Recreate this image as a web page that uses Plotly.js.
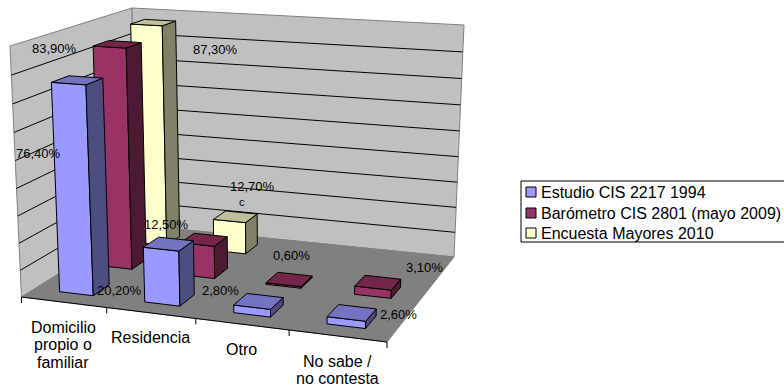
<!DOCTYPE html>
<html>
<head>
<meta charset="utf-8">
<script src="https://cdn.plot.ly/plotly-3.0.1.min.js"></script>
<style>html,body{margin:0;padding:0;background:#fff}#chart{width:784px;height:387px}</style>
</head>
<body>
<div id="chart"></div>
<script>
// Survey results: where older people would prefer to live (percent of answers)
const categories = [['Domicilio', 'propio o', 'familiar'], ['Residencia'], ['Otro'], ['No sabe /', 'no contesta']];
const seriesNames = ['Estudio CIS 2217 1994', 'Barómetro CIS 2801 (mayo 2009)', 'Encuesta Mayores 2010'];
const estudio1994 = [76.4, 20.2, 2.8, 2.6];
const barometro2009 = [83.9, 12.5, 0.6, 3.1];
const encuesta2010 = [87.3, 12.7, null, null];
const axisMax = 90;
const axisStep = 10;

// Face colours per series: front, side, top
const faceColors = [
  ['#9999FF', '#4D4D80', '#7373BF'],
  ['#993366', '#4D1A33', '#732649'],
  ['#FFFFCC', '#808066', '#BFBF99']
];

// Camera model: screen corners of the chart box at floor level and at axisMax
const floorCorners = [[21.5, 297], [387, 342], [454, 257], [137, 225]];
const topCorners = [[10, 46], [399, 72], [464, 25], [132, 8]];
const heightPerspective = 1.05;
const nCat = categories.length, nDepth = seriesNames.length;

// Homography taking the unit square onto a screen quadrilateral
function quadMap(q) {
  const [[x0, y0], [x1, y1], [x2, y2], [x3, y3]] = q;
  const dx1 = x1 - x2, dx2 = x3 - x2, sx = x0 - x1 + x2 - x3;
  const dy1 = y1 - y2, dy2 = y3 - y2, sy = y0 - y1 + y2 - y3;
  const det = dx1 * dy2 - dx2 * dy1;
  const g = (sx * dy2 - dx2 * sy) / det, h = (dx1 * sy - sx * dy1) / det;
  const a = x1 - x0 + g * x1, b = x3 - x0 + h * x3, d = y1 - y0 + g * y1, e = y3 - y0 + h * y3;
  return (u, v) => {
    const w = g * u + h * v + 1;
    return [(a * u + b * v + x0) / w, (d * u + e * v + y0) / w];
  };
}
const floorMap = quadMap(floorCorners), topMap = quadMap(topCorners);

// Project (category position, depth position, value) to chart coordinates
function project(u, d, v) {
  const p = floorMap(u / nCat, d / nDepth), q = topMap(u / nCat, d / nDepth), f = v / axisMax;
  const t = f / (heightPerspective - (heightPerspective - 1) * f);
  return [p[0] + (q[0] - p[0]) * t, p[1] + (q[1] - p[1]) * t];
}

const traces = [];
function polygon(points, fill, line, width) {
  const closed = points.concat([points[0]]);
  traces.push({
    type: 'scatter', mode: 'lines', x: closed.map(p => p[0]), y: closed.map(p => p[1]),
    fill: 'toself', fillcolor: fill, line: {color: line, width: width},
    hoverinfo: 'skip', showlegend: false
  });
}
function polyline(points, color, width) {
  traces.push({
    type: 'scatter', mode: 'lines', x: points.map(p => p ? p[0] : null), y: points.map(p => p ? p[1] : null),
    line: {color: color, width: width}, hoverinfo: 'skip', showlegend: false
  });
}

// Walls and floor
polygon([project(0, 0, 0), project(0, nDepth, 0), project(0, nDepth, axisMax), project(0, 0, axisMax)], '#C0C0C0', '#808080', 1);
polygon([project(0, nDepth, 0), project(nCat, nDepth, 0), project(nCat, nDepth, axisMax), project(0, nDepth, axisMax)], '#C0C0C0', '#808080', 1);
polygon([project(0, 0, 0), project(nCat, 0, 0), project(nCat, nDepth, 0), project(0, nDepth, 0)], '#808080', '#808080', 1);

// Gridlines across both walls
const grid = [];
for (let v = axisStep; v < axisMax; v += axisStep) {
  grid.push(project(0, 0, v), project(0, nDepth, v), project(nCat, nDepth, v), null);
}
polyline(grid, '#000000', 1);

// Category axis with tick marks
const axisLine = [project(0, 0, 0), project(nCat, 0, 0), null];
for (let i = 0; i <= nCat; i++) {
  const p = project(i, 0, 0);
  axisLine.push(p, [p[0], p[1] + 6], null);
}
polyline(axisLine, '#000000', 1);

// Bars, back row first so nearer rows paint over it
const rows = [estudio1994, barometro2009, encuesta2010];
for (let s = nDepth - 1; s >= 0; s--) {
  rows[s].forEach((v, i) => {
    if (v === null) return;
    const u0 = i + 0.3, u1 = i + 0.7, d0 = s + 0.3, d1 = s + 0.7;
    const [front, side, top] = faceColors[s];
    polygon([project(u0, d0, 0), project(u1, d0, 0), project(u1, d0, v), project(u0, d0, v)], front, '#000000', 1);
    polygon([project(u1, d0, 0), project(u1, d1, 0), project(u1, d1, v), project(u1, d0, v)], side, '#000000', 1);
    polygon([project(u0, d0, v), project(u1, d0, v), project(u1, d1, v), project(u0, d1, v)], top, '#000000', 1);
  });
}

// Value labels, placed beside their bars
const labelSpots = [
  [[38, 153], [119, 290], [220, 290], [398, 314]],
  [[54, 48], [166, 224], [291, 255], [424, 267]],
  [[215, 49], [252, 186], null, null]
];
const formatPct = v => v.toFixed(2).replace('.', ',') + '%';
const annotations = [];
function textAt(x, y, text, size, anchor) {
  annotations.push({
    xref: 'x', yref: 'y', x: x, y: y, text: text, showarrow: false,
    xanchor: anchor || 'center', yanchor: 'middle', borderpad: 0,
    font: {family: 'Liberation Sans, Arial, sans-serif', size: size, color: '#000000'}
  });
}
rows.forEach((row, s) => row.forEach((v, i) => {
  if (v !== null) textAt(labelSpots[s][i][0], labelSpots[s][i][1], formatPct(v), 13);
}));
textAt(242, 202, 'c', 11);

// Category names under the axis
const categorySpots = [[63, 327], [150, 337], [241, 349], [337, 361]];
categories.forEach((lines, i) => lines.forEach((t, k) => {
  textAt(categorySpots[i][0], categorySpots[i][1] + k * 17.8, t, 16);
}));

// Legend
const legendRows = [192, 213, 233];
seriesNames.forEach((name, s) => {
  traces.push({
    type: 'scatter', mode: 'markers', x: [531], y: [legendRows[s]], name: name,
    marker: {symbol: 'square', size: 10, color: faceColors[s][0], line: {color: '#000000', width: 1}},
    hoverinfo: 'name', showlegend: false
  });
  textAt(540, legendRows[s], name, 16, 'left');
});

const layout = {
  width: 784, height: 387, margin: {l: 0, r: 0, t: 0, b: 0},
  paper_bgcolor: '#FFFFFF', plot_bgcolor: '#FFFFFF', showlegend: false,
  xaxis: {range: [0, 784], visible: false, fixedrange: true},
  yaxis: {range: [387, 0], visible: false, fixedrange: true},
  annotations: annotations,
  shapes: [{type: 'rect', xref: 'x', yref: 'y', x0: 521, x1: 800, y0: 181, y1: 242, line: {color: '#000000', width: 1}, layer: 'below'}]
};
Plotly.newPlot('chart', traces, layout, {displayModeBar: false, staticPlot: true});
</script>
</body>
</html>
